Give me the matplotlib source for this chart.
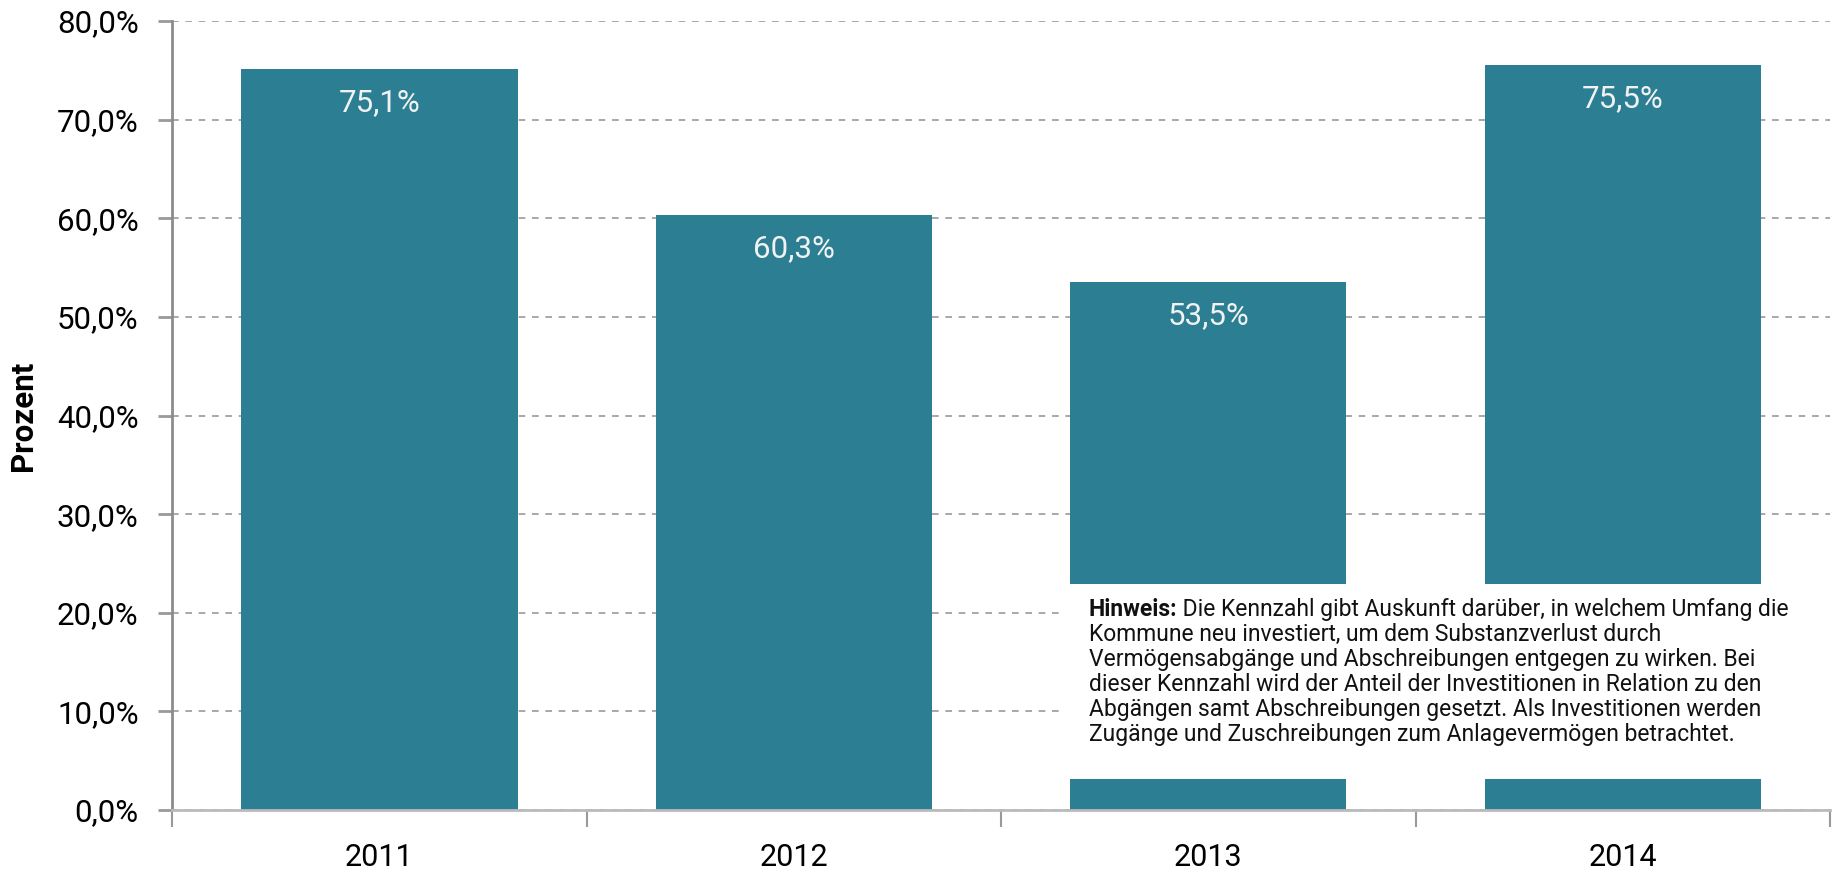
import matplotlib
matplotlib.use("Agg")
import matplotlib.pyplot as plt
from matplotlib.patches import Rectangle
from matplotlib.offsetbox import TextArea, HPacker, VPacker, AnnotationBbox

# data
years = ["2011", "2012", "2013", "2014"]
values = [75.1, 60.3, 53.5, 75.5]
yticks = [0, 10, 20, 30, 40, 50, 60, 70, 80]

note_head = "Hinweis:"
note_lines = [
    " Die Kennzahl gibt Auskunft darüber, in welchem Umfang die",
    "Kommune neu investiert, um dem Substanzverlust durch",
    "Vermögensabgänge und Abschreibungen entgegen zu wirken. Bei",
    "dieser Kennzahl wird der Anteil der Investitionen in Relation zu den",
    "Abgängen samt Abschreibungen gesetzt. Als Investitionen werden",
    "Zugänge und Zuschreibungen zum Anlagevermögen betrachtet.",
]

bar_color = "#2c7f92"
font = "Roboto"


def fmt(v):
    return f"{v:.1f}".replace(".", ",") + "%"


def main():
    fig = plt.figure(figsize=(18.44, 8.71), dpi=100)
    ax = fig.add_axes([0.0933, 0.070, 0.8991, 0.9059])

    x = list(range(len(years)))
    bars = ax.bar(x, values, width=0.667, color=bar_color, zorder=2)

    # labels inside the bars
    for b, v in zip(bars, values):
        ax.annotate(fmt(v), (b.get_x() + b.get_width() / 2, v),
                    xytext=(0, -24), textcoords="offset points",
                    ha="center", va="center", color="#f2f2f2",
                    fontsize=22.5, family=font, zorder=3)

    ax.set_xlim(-0.5, len(years) - 0.5)
    ax.set_ylim(0, 80)
    ax.set_yticks(yticks)
    ax.set_yticklabels([fmt(t) for t in yticks], family=font, fontsize=22.5)

    # category boundaries as major ticks, names as minor ticks
    ax.set_xticks([i - 0.5 for i in range(len(years) + 1)])
    ax.set_xticklabels([])
    ax.set_xticks(x, minor=True)
    ax.set_xticklabels(years, minor=True, family=font, fontsize=22)
    ax.tick_params(axis="x", which="major", length=12, width=1.5,
                   color="#999999", direction="out")
    ax.tick_params(axis="x", which="minor", length=0, pad=24)
    ax.tick_params(axis="y", length=10, width=2, color="#999999", pad=14)

    ax.yaxis.grid(True, linestyle=(0, (4, 4)), color="#999999",
                  linewidth=1.2, zorder=1)
    ax.set_axisbelow(True)

    for s in ["top", "right"]:
        ax.spines[s].set_visible(False)
    ax.spines["left"].set_color("#8c8c8c")
    ax.spines["left"].set_linewidth(2)
    ax.spines["bottom"].set_color("#bbbbbb")
    ax.spines["bottom"].set_linewidth(2)

    ax.set_ylabel("Prozent", family=font, fontweight="bold", fontsize=22.5)
    ax.yaxis.set_label_coords(-0.081, 0.5)

    # white note panel over the lower part of the last two bars
    ax.add_patch(Rectangle((0.538, 0.039), 0.47, 0.247,
                           transform=ax.transAxes, facecolor="white",
                           edgecolor="none", zorder=4, clip_on=False))

    tp = dict(family=font, fontsize=16.5, color="#111111")
    first = HPacker(children=[
        TextArea(note_head, textprops=dict(tp, fontweight="bold")),
        TextArea(note_lines[0], textprops=tp)], pad=0, sep=0)
    rows = [first] + [TextArea(l, textprops=tp) for l in note_lines[1:]]
    box = VPacker(children=rows, pad=0, sep=1.4, align="left")
    ab = AnnotationBbox(box, (0.553, 0.269), xycoords="axes fraction",
                        box_alignment=(0, 1), frameon=False, zorder=5)
    ax.add_artist(ab)

    fig.savefig("out.png", dpi=100)


if __name__ == "__main__":
    main()
